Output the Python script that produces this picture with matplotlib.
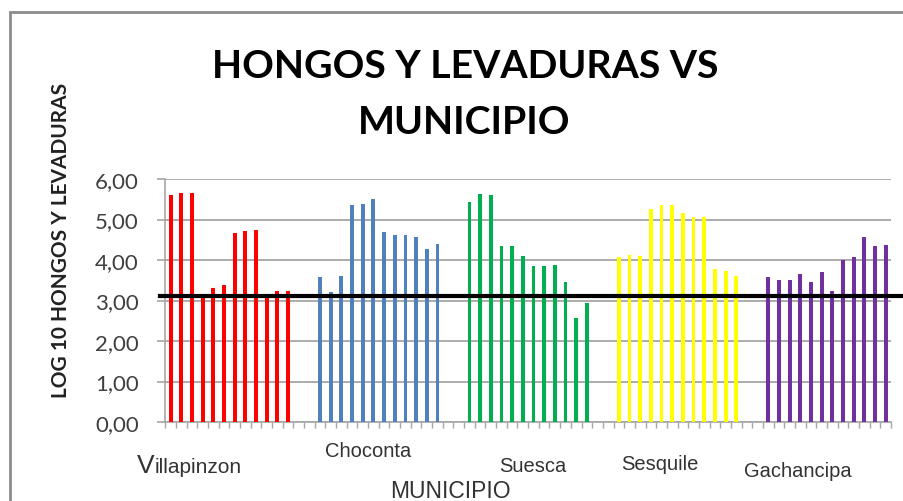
import matplotlib
matplotlib.use('Agg')
import matplotlib.pyplot as plt
from matplotlib.patches import Rectangle
import numpy as np

municipios = ['Villapinzon', 'Choconta', 'Suesca', 'Sesquile', 'Gachancipa']
villapinzon = [5.60, 5.65, 5.65, 3.10, 3.30, 3.38, 4.66, 4.72, 4.75, 3.10, 3.23, 3.23]
choconta = [3.57, 3.20, 3.61, 5.36, 5.39, 5.51, 4.68, 4.62, 4.62, 4.58, 4.27, 4.40]
suesca = [5.42, 5.64, 5.60, 4.34, 4.34, 4.10, 3.84, 3.84, 3.88, 3.45, 2.58, 2.94]
sesquile = [4.07, 4.12, 4.11, 5.26, 5.36, 5.36, 5.16, 5.05, 5.05, 3.79, 3.73, 3.61]
gachancipa = [3.57, 3.51, 3.51, 3.66, 3.45, 3.70, 3.23, 3.99, 4.07, 4.56, 4.34, 4.37]
limite = 3.12
yticks = [0, 1, 2, 3, 4, 5, 6]

series = [villapinzon, choconta, suesca, sesquile, gachancipa]
colores = ['#FF0000', '#4F81BD', '#00B050', '#FFFF00', '#7030A0']

W, H = 904, 502
fig = plt.figure(figsize=(W / 100, H / 100), dpi=100)
fig.patch.set_facecolor('white')

# borde del grafico (cortado a la derecha y abajo)
fig.add_artist(Rectangle((10 / W, -0.5), 2, 1 - 13 / H + 0.5, transform=fig.transFigure,
                         fill=False, ec='#8c8c8c', lw=2))

ax = fig.add_axes([165.3 / W, 1 - 423 / H, (891 - 165.3) / W, (423 - 180) / H])

gap = 2
n = len(villapinzon)
for g, vals in enumerate(series):
    x = g * (n + gap) + np.arange(n)
    ax.bar(x, vals, width=0.36, color=colores[g], zorder=3)

total = len(series) * n + (len(series) - 1) * gap
ax.set_xlim(-0.5, total - 0.5)
ax.set_ylim(0, 6)

ax.set_yticks(yticks)
ax.set_yticklabels([('%.2f' % v).replace('.', ',') for v in yticks], fontsize=16,
                   color='#404040', family=['Lato', 'DejaVu Sans'])
ax.set_xticks(np.arange(total + 1) - 0.5)
ax.set_xticklabels([])
ax.tick_params(axis='x', length=4, width=1, color='#a6a6a6', direction='out')
ax.tick_params(axis='y', length=6, width=1.2, color='#a6a6a6', pad=13)
ax.yaxis.grid(True, color='#a6a6a6', lw=1.3, zorder=0)
for s in ['top', 'right']:
    ax.spines[s].set_visible(False)
for s in ['left', 'bottom']:
    ax.spines[s].set_color('#a6a6a6')
    ax.spines[s].set_linewidth(1.2)

# linea de referencia
ax.plot([-1.0, total + 2], [limite, limite], color='black', lw=3, zorder=5, clip_on=False)

# titulo
tfont = dict(fontsize=28.3, fontweight='bold', family=['Lato', 'DejaVu Sans'], color='black')
fig.text(465 / W, 1 - 78.3 / H, 'HONGOS Y LEVADURAS VS', ha='center', va='baseline', **tfont)
fig.text(464 / W, 1 - 134 / H, 'MUNICIPIO', ha='center', va='baseline', **tfont)

fig.text(61.5 / W, 1 - 240.7 / H, 'LOG 10 HONGOS Y LEVADURAS', rotation=90, ha='center',
         va='center', fontsize=15, fontweight='bold', family=['Lato', 'DejaVu Sans'], color='#222222')

# nombres de municipios
lfont = dict(family=['Liberation Sans', 'DejaVu Sans'], color='#333333')
fig.text(155 / W, 1 - 473 / H, 'V', ha='right', va='baseline', fontsize=19, **lfont)
fig.text(155 / W, 1 - 473 / H, municipios[0][1:], ha='left', va='baseline', fontsize=15, **lfont)
pos = [(368, 456.7), (533, 471.7), (660, 470), (798, 476.7)]
for nombre, (px, py) in zip(municipios[1:], pos):
    fig.text(px / W, 1 - py / H, nombre, ha='center', va='baseline', fontsize=14.5, **lfont)

fig.text(450 / W, 1 - 498.5 / H, 'MUNICIPIO', ha='center', va='baseline', fontsize=16.5, **lfont)

fig.savefig('out.png', dpi=100)
